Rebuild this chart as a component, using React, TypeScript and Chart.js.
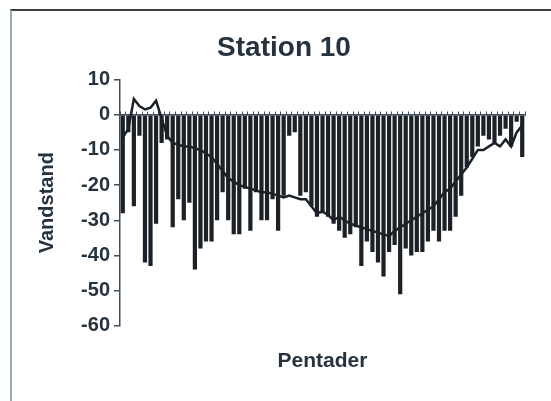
import React, { useEffect, useRef } from "react";
import { Chart, registerables } from "chart.js";

Chart.register(...registerables);

const pentads = [
  "1","2","3","4","5","6","7","8","9","10","11","12","13","14","15","16","17","18","19","20",
  "21","22","23","24","25","26","27","28","29","30","31","32","33","34","35","36","37","38","39","40",
  "41","42","43","44","45","46","47","48","49","50","51","52","53","54","55","56","57","58","59","60",
  "61","62","63","64","65","66","67","68","69","70","71","72","73",
];

// minimum water level per pentad (bars)
const minLevel = [
  -28, -5, -26, -6, -42, -43, -31, -8, -7, -32,
  -24, -30, -25, -44, -38, -36, -36, -30, -22, -30,
  -34, -34, -21, -33, -22, -30, -30, -24, -33, -23,
  -6, -5, -23, -22, -26, -29, -28, -29, -31, -33,
  -35, -34, -32, -43, -36, -39, -42, -46, -39, -37,
  -51, -38, -40, -39, -39, -36, -33, -36, -33, -33,
  -29, -23, -15, -12, -9, -6, -7, -8, -6, -4,
  -9, -2, -12,
];

// mean water level per pentad (line)
const meanLevel = [
  -6.5, -4, 4.5, 2.5, 1.5, 2, 4, -1, -6, -8,
  -8.5, -9, -9, -9.5, -10, -11, -12, -14, -16, -18,
  -19, -20, -20.5, -21, -21.5, -22, -22, -22.5, -23, -23.5,
  -23, -23.5, -24, -24, -26, -28, -27.5, -28.5, -30, -29,
  -30, -31, -31.5, -32, -32.5, -33, -33.5, -34, -34.5, -33,
  -32, -31, -30, -29, -28, -27, -26, -24, -22, -21,
  -19, -17, -15, -12.5, -10, -10, -9, -8, -9, -7,
  -9, -5, -3,
];

const yTicks = [10, 0, -10, -20, -30, -40, -50, -60];

const FONT = "'Liberation Sans', Arial, Helvetica, sans-serif";
const TEXT = "#26323d";
const AXIS = "#3e4e5e";
const INK = "#1b2127";

export default function App() {
  const ref = useRef<HTMLCanvasElement | null>(null);

  useEffect(() => {
    if (!ref.current) return;
    const chart = new Chart(ref.current, {
      type: "bar",
      data: {
        labels: pentads,
        datasets: [
          {
            type: "line",
            label: "Middel",
            data: meanLevel,
            borderColor: INK,
            borderWidth: 2.5,
            pointRadius: 0,
            tension: 0,
            order: 0,
          } as any,
          {
            type: "bar",
            label: "Minimum",
            data: minLevel,
            backgroundColor: INK,
            borderWidth: 0,
            barPercentage: 0.95,
            categoryPercentage: 0.8,
            order: 1,
          },
        ],
      },
      options: {
        responsive: false,
        animation: false,
        layout: { padding: { left: 43, right: 26, top: 0, bottom: 0 } },
        plugins: {
          legend: { display: false },
          tooltip: { enabled: false },
          title: {
            display: true,
            text: "Station 10",
            color: TEXT,
            font: { family: FONT, size: 28, weight: "bold" },
            padding: { top: 31, bottom: 15 },
          },
          subtitle: {
            display: true,
            text: "Pentader",
            position: "bottom",
            fullSize: false,
            color: TEXT,
            font: { family: FONT, size: 21, weight: "bold" },
            padding: { top: 23, bottom: 27 },
          },
        },
        scales: {
          x: {
            type: "category",
            position: { y: 0 } as any,
            ticks: { display: false },
            grid: {
              drawOnChartArea: false,
              drawTicks: true,
              tickLength: -4,
              color: AXIS,
              lineWidth: 1,
            },
            border: { display: true, color: AXIS, width: 1.5 },
          },
          y: {
            min: -60,
            max: 10,
            afterFit: (scale: any) => {
              scale.width = 77;
            },
            afterBuildTicks: (scale: any) => {
              scale.ticks = yTicks.map((v) => ({ value: v }));
            },
            ticks: {
              color: TEXT,
              font: { family: FONT, size: 20, weight: "bold" },
              padding: 4,
            },
            grid: {
              drawOnChartArea: false,
              drawTicks: true,
              tickLength: 6,
              color: AXIS,
              lineWidth: 1.5,
            },
            border: { display: true, color: AXIS, width: 1.5 },
            title: {
              display: true,
              text: "Vandstand",
              color: TEXT,
              font: { family: FONT, size: 20, weight: "bold" },
              padding: { top: -8, bottom: 0 },
            },
          },
        },
      },
    });
    return () => chart.destroy();
  }, []);

  return (
    <div
      style={{
        position: "fixed",
        left: 0,
        top: 0,
        width: 551,
        height: 401,
        background: "#ffffff",
        overflow: "hidden",
      }}
    >
      <div
        style={{
          position: "absolute",
          left: 10,
          top: 9,
          width: 560,
          height: 420,
          borderLeft: "2px solid #9aabb8",
          borderTop: "2px solid #3a3f44",
        }}
      />
      <canvas
        ref={ref}
        width={551}
        height={401}
        style={{ position: "absolute", left: 0, top: 0, width: 551, height: 401 }}
      />
    </div>
  );
}
